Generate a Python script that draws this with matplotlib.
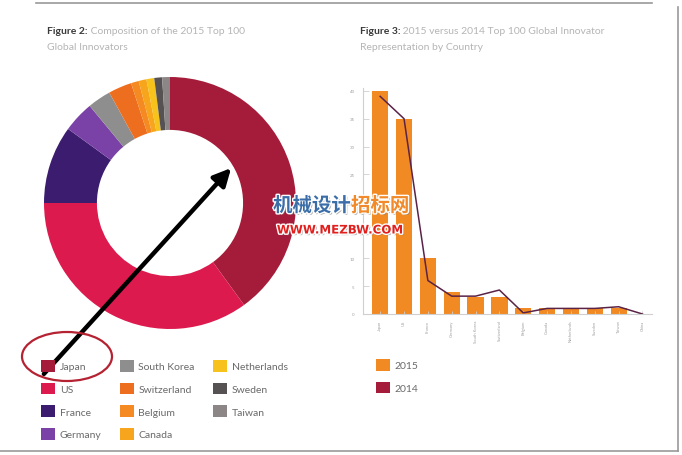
import matplotlib.pyplot as plt
import matplotlib.patheffects as pe
from matplotlib.patches import FancyArrowPatch, Ellipse, Patch
from matplotlib.lines import Line2D
from matplotlib.text import Annotation

plt.rcParams['font.family'] = ['Lato', 'DejaVu Sans']

# composition of the 2015 top 100 (donut)
countries = ['Japan', 'US', 'France', 'Germany', 'South Korea', 'Switzerland',
             'Belgium', 'Canada', 'Netherlands', 'Sweden', 'Taiwan']
share_2015 = [40, 35, 10, 4, 3, 3, 1, 1, 1, 1, 1]
country_colors = ['#A51C3A', '#DC1A4E', '#3B1C6E', '#7A42A6', '#8E8E8E', '#EE6E1F',
                  '#F58A22', '#F7A51C', '#F6C21B', '#565152', '#8C8686']

# 2015 vs 2014 by country (bars + line)
bar_countries = ['Japan', 'US', 'France', 'Germany', 'South Korea', 'Switzerland',
                 'Belgium', 'Canada', 'Netherlands', 'Sweden', 'Taiwan', 'China']
count_2015 = [40, 35, 10, 4, 3, 3, 1, 1, 1, 1, 1, 0]
count_2014 = [39, 35, 6, 3.2, 3.2, 4.3, 0.2, 1, 1, 1, 1.3, 0]
y_ticks = [0, 5, 10, 15, 20, 25, 30, 35, 40]

W, H = 682, 456
fig = plt.figure(figsize=(W / 100, H / 100), dpi=100)
fig.patch.set_facecolor('white')


def fx(x):
    return x / W


def fy(y):
    return 1 - y / H


# frame lines of the screenshot
fig.add_artist(Line2D([fx(36), fx(652)], [fy(4), fy(4)], color='#9a9a9a', lw=1.2))
fig.add_artist(Line2D([fx(678), fx(678)], [fy(8), fy(452)], color='#9a9a9a', lw=1.2))
fig.add_artist(Line2D([fx(0), fx(678)], [fy(452), fy(452)], color='#9a9a9a', lw=1.2))

# titles
for x0, bold, rest1, rest2 in [
        (47, 'Figure 2:', ' Composition of the 2015 Top 100', 'Global Innovators'),
        (360, 'Figure 3:', ' 2015 versus 2014 Top 100 Global Innovator', 'Representation by Country')]:
    t = fig.text(fx(x0), fy(32), bold, fontsize=7.5, fontweight='bold', color='#3a3a3a',
                 va='center', ha='left')
    fig.add_artist(Annotation(rest1, xy=(1, 0.5), xycoords=t, va='center', ha='left',
                              fontsize=7.5, color='#b5b5b5', annotation_clip=False))
    fig.text(fx(x0), fy(47), rest2, fontsize=7.5, color='#b5b5b5', va='center', ha='left')

# donut
cx, cy, r = 170, 204, 126
ax_pie = fig.add_axes([fx(cx - r), fy(cy + r), 2 * r / W, 2 * r / H])
wedges, _ = ax_pie.pie(share_2015, colors=country_colors, startangle=90, counterclock=False,
                       radius=1, wedgeprops=dict(width=0.42, linewidth=0))
ax_pie.set_xlim(-1, 1)
ax_pie.set_ylim(-1, 1)
ax_pie.set_aspect('auto')
ax_pie.axis('off')

handles = [Patch(facecolor=c, edgecolor='none') for c in country_colors]
fig.legend(handles, countries, loc='upper left', bbox_to_anchor=(fx(41), fy(361)),
           ncol=3, frameon=False, fontsize=7.5, labelcolor='#6a6a6a',
           handlelength=1.35, handleheight=1.35, handletextpad=0.45,
           labelspacing=1.05, columnspacing=1.75, borderpad=0, borderaxespad=0)

# bar chart
ax = fig.add_axes([fx(363), fy(315), 289 / W, 226 / H])
xs = list(range(len(bar_countries)))
ax.bar(xs, count_2015, width=0.68, color='#F28A24')
ax.plot(xs, count_2014, color='#5A2346', lw=1.1)
ax.set_xlim(-0.72, 11.4)
ax.set_ylim(0, 40.5)
ax.set_yticks(y_ticks)
ax.set_yticklabels([str(v) for v in y_ticks])
ax.set_xticks(xs)
ax.set_xticklabels(bar_countries, rotation=90)
for s in ['top', 'right']:
    ax.spines[s].set_visible(False)
for s in ['left', 'bottom']:
    ax.spines[s].set_color('#cfcfcf')
    ax.spines[s].set_linewidth(0.8)
ax.tick_params(axis='y', direction='in', length=4, width=0.6, color='#cfcfcf',
               labelsize=3.2, labelcolor='#a0a0a0', pad=6)
ax.tick_params(axis='x', direction='in', length=2, width=0.6, color='#cfcfcf',
               labelsize=3, labelcolor='#a0a0a0', pad=4)
ax.set_facecolor('none')

fig.legend([Patch(facecolor='#F28A24'), Patch(facecolor='#A51C3A')], ['2015', '2014'],
           loc='upper left', bbox_to_anchor=(fx(376), fy(360)), frameon=False,
           fontsize=7.5, labelcolor='#6a6a6a', handlelength=1.35, handleheight=1.35,
           handletextpad=0.45, labelspacing=1.05, borderpad=0, borderaxespad=0)

# annotation: arrow and ellipse around Japan
fig.add_artist(FancyArrowPatch((fx(42), fy(377)), (fx(233), fy(167)),
                               transform=fig.transFigure, arrowstyle='-|>',
                               mutation_scale=26, color='black', lw=3.2))
fig.add_artist(Ellipse((fx(67), fy(357.5)), 90 / W, 49 / H, transform=fig.transFigure,
                       fill=False, edgecolor='#B52232', lw=1.6))

# watermark
outline = [pe.withSimplePatchShadow(offset=(1.2, -1.2), shadow_rgbFace='#777777', alpha=0.6),
           pe.withStroke(linewidth=2, foreground='white')]
wm1 = fig.text(fx(273), fy(207), '机械设计', fontsize=14, color='#3B6EA8', fontweight='bold',
               va='center', ha='left', family=['Noto Sans CJK SC', 'DejaVu Sans'],
               path_effects=outline, zorder=10)
fig.add_artist(Annotation('招标网', xy=(1, 0.5), xycoords=wm1, va='center', ha='left',
                          fontsize=14, color='#F08A2A', fontweight='bold',
                          family=['Noto Sans CJK SC', 'DejaVu Sans'],
                          annotation_clip=False, path_effects=outline, zorder=10))
fig.text(fx(340), fy(231), 'WWW.MEZBW.COM', fontsize=8.5, color='#E0201F', fontweight='bold',
         va='center', ha='center', family=['DejaVu Sans'], path_effects=outline, zorder=10)

fig.savefig('out.png', dpi=100)
